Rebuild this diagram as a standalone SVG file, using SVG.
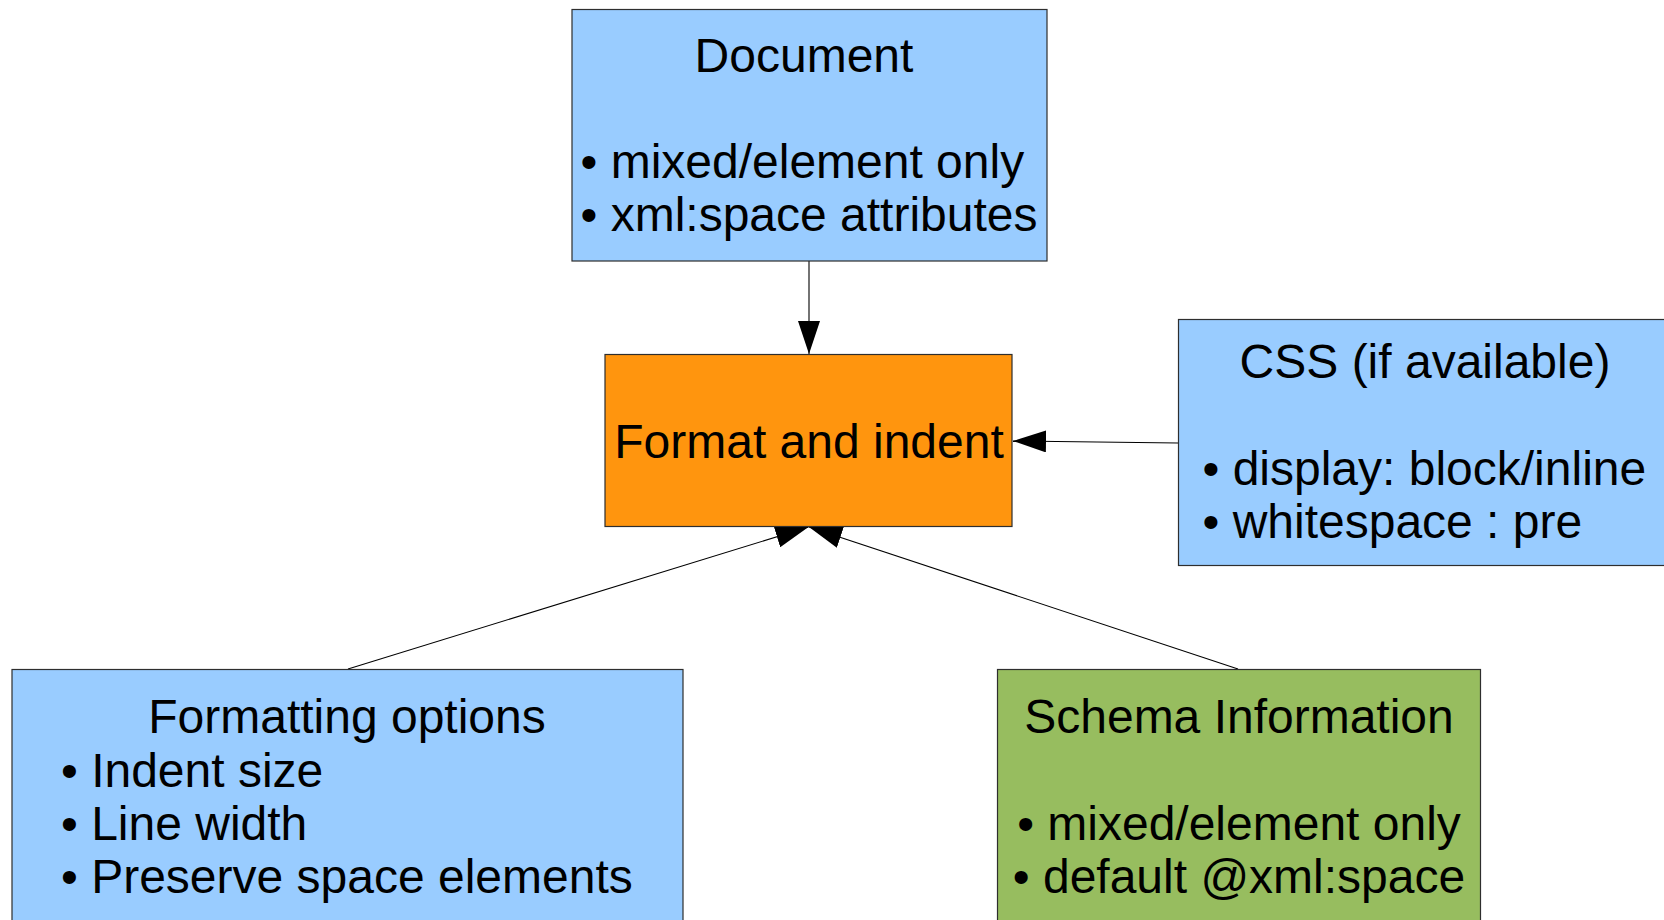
<svg xmlns="http://www.w3.org/2000/svg" width="1664" height="920" viewBox="0 0 1664 920">
  <style>
    .box { stroke: #2e2e2e; stroke-width: 1.2; }
    .blue { fill: #99ccff; }
    .orange { fill: #ff950e; }
    .green { fill: #97bd5f; }
    text { font-family: "Liberation Sans", Arial, sans-serif; font-size: 48px; fill: #000; }
    .c { text-anchor: middle; }
    .conn { stroke: #000; stroke-width: 1.1; fill: none; marker-end: url(#arrow); }
  </style>
  <defs>
    <marker id="arrow" viewBox="0 0 33 22" markerWidth="33" markerHeight="22" refX="33" refY="11" orient="auto" markerUnits="userSpaceOnUse">
      <path d="M0,0 L33,11 L0,22 z" fill="#000"/>
    </marker>
  </defs>
  <rect width="1664" height="920" fill="#ffffff"/>

  <g id="connectors">
    <line class="conn" x1="809" y1="261" x2="809" y2="354"/>
    <line class="conn" x1="1178" y1="443" x2="1013" y2="441"/>
    <line class="conn" x1="348" y1="669" x2="808.5" y2="527"/>
    <line class="conn" x1="1238" y1="669" x2="809" y2="527"/>
  </g>

  <g id="document">
    <rect class="box blue" x="572" y="9.5" width="475" height="251.5"/>
    <text class="c" x="804" y="72">Document</text>
    <text x="580.5" y="178">• mixed/element only</text>
    <text x="580.5" y="231">• xml:space attributes</text>
  </g>

  <g id="format">
    <rect class="box orange" x="605" y="354.5" width="407" height="172"/>
    <text class="c" x="809" y="458">Format and indent</text>
  </g>

  <g id="css">
    <rect class="box blue" x="1178.5" y="319.5" width="500" height="246"/>
    <text class="c" x="1425" y="378">CSS (if available)</text>
    <text x="1202.5" y="485">• display: block/inline</text>
    <text x="1202.5" y="538">• whitespace : pre</text>
  </g>

  <g id="formatting-options">
    <rect class="box blue" x="12" y="669.5" width="671" height="270"/>
    <text class="c" x="347" y="733">Formatting options</text>
    <text x="61" y="787">• Indent size</text>
    <text x="61" y="840">• Line width</text>
    <text x="61" y="893">• Preserve space elements</text>
  </g>

  <g id="schema">
    <rect class="box green" x="997.5" y="669.5" width="483" height="270"/>
    <text class="c" x="1239" y="733">Schema Information</text>
    <text class="c" x="1239" y="840">• mixed/element only</text>
    <text class="c" x="1239" y="893">• default @xml:space</text>
  </g>
</svg>
